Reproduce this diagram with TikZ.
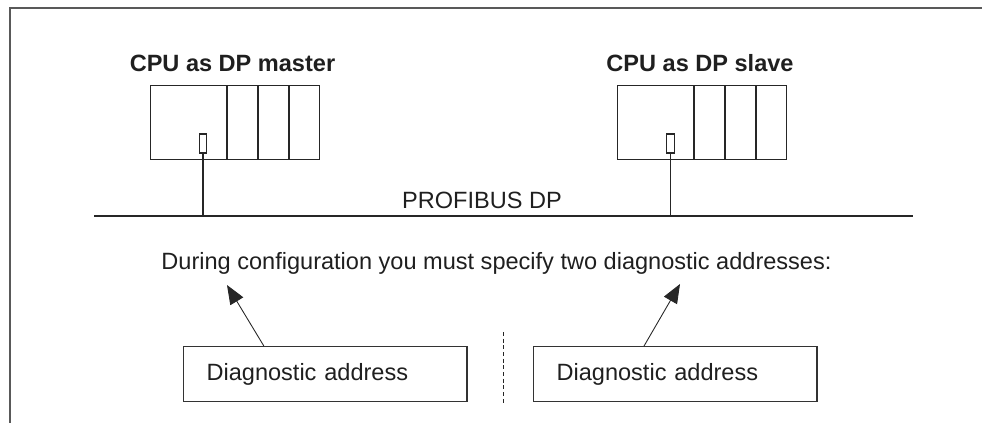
\documentclass[tikz,border=0pt]{standalone}
\usepackage{fontspec}
\setmainfont{Liberation Sans}
\usetikzlibrary{arrows.meta,positioning,calc}

\tikzset{
  label/.style={inner sep=0pt, text=black!88, font=\fontsize{13.4}{16}\selectfont},
  title/.style={label, font=\fontsize{13.4}{16}\selectfont\bfseries},
  cpu/.style={draw=black!85, line width=0.6pt, minimum width=1.52cm, minimum height=1.48cm, inner sep=0pt},
  module/.style={draw=black!85, line width=0.6pt, minimum width=0.6cm, minimum height=1.48cm, inner sep=0pt},
  port/.style={draw=black!85, line width=0.6pt, minimum width=0.15cm, minimum height=0.38cm, inner sep=0pt},
  addrbox/.style={draw=black!80, line width=0.7pt, text width=4.75cm, align=left, inner xsep=0.46cm, minimum height=1.1cm, text=black!88, font=\fontsize{13.4}{16}\selectfont},
  pointer/.style={draw=black!85, line width=0.5pt, -{Triangle[length=0.38cm, width=0.3cm]}},
  drop/.style={draw=black!85, line width=1.1pt},
  bus/.style={draw=black!85, line width=1.2pt}
}

\begin{document}
\begin{tikzpicture}[x=0.02cm, y=-0.02cm]
	\useasboundingbox (0,0) rectangle (982,423);
	% frame
	\draw[black!65, line width=0.8pt] (982,8) -- (10,8) -- (10,423);

	% master station
	\node[title, anchor=base] (mtitle) at (232.5,71) {CPU as DP master};
	\node[cpu, anchor=north west] (mcpu) at (150,85) {};
	\node[module, right=0pt of mcpu] (mmodA) {};
	\node[module, right=0pt of mmodA] (mmodB) {};
	\node[module, right=0pt of mmodB] (mmodC) {};
	\node[port] (mport) at (203,143.5) {};

	% slave station
	\node[title, anchor=base] (stitle) at (700,71) {CPU as DP slave};
	\node[cpu, anchor=north west] (scpu) at (617,85) {};
	\node[module, right=0pt of scpu] (smodA) {};
	\node[module, right=0pt of smodA] (smodB) {};
	\node[module, right=0pt of smodB] (smodC) {};
	\node[port] (sport) at (670.5,143.5) {};

	% bus
	\coordinate (busL) at (94,216);
	\coordinate (busR) at (913,216);
	\draw[bus] (busL) -- (busR);
	\draw[drop] (mport.south) -- (mport.south |- busL);
	\draw[drop] (sport.south) -- (sport.south |- busL);
	\node[label, anchor=base] (busname) at (482,208) {PROFIBUS DP};

	% diagnostic addresses
	\node[label, anchor=base] (note) at (496.5,269) {During configuration you must specify two diagnostic addresses:};
	\node[addrbox, anchor=north west] (diagA) at (183,346) {Diagnostic address};
	\node[addrbox, anchor=north west] (diagB) at (533,346) {Diagnostic address};
	\coordinate (tipA) at (227,285);
	\coordinate (tipB) at (680,284);
	\draw[pointer] ($(diagA.north west)!0.284!(diagA.north east)$) -- (tipA);
	\draw[pointer] ($(diagB.north west)!0.39!(diagB.north east)$) -- (tipB);

	% separator
	\coordinate (sepT) at (503,332);
	\coordinate (sepB) at (503,403);
	\draw[black!85, line width=0.5pt, dash pattern=on 2.2pt off 1.6pt] (sepT) -- (sepB);
\end{tikzpicture}
\end{document}
